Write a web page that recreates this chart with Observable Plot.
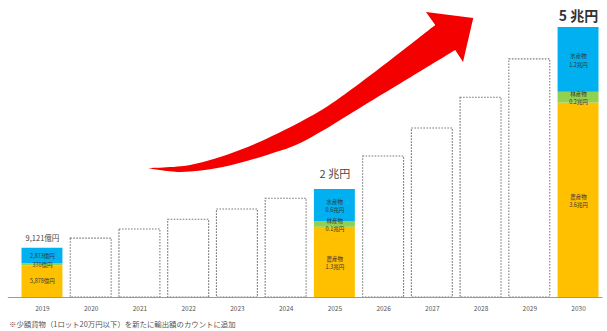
<!DOCTYPE html>
<html><head><meta charset="utf-8">
<script src="https://cdn.jsdelivr.net/npm/d3@7"></script>
<script src="https://cdn.jsdelivr.net/npm/@observablehq/plot@0.6"></script>
<style>
body{margin:0;background:#fff;font-family:"Noto Sans CJK JP",sans-serif;}
#note{font-size:7.4px;color:#555;height:15px;line-height:15px;padding-left:9px;white-space:nowrap;}
</style></head>
<body><div id="chart"></div><div id="note">※少額貨物（1ロット20万円以下）を新たに輸出額のカウントに追加</div>
<script>
// ---- data (兆円) ----
const years = [2019,2020,2021,2022,2023,2024,2025,2026,2027,2028,2029,2030];
const totals = [0.9121,1.09,1.26,1.44,1.63,1.83,2.0,2.61,3.13,3.70,4.41,5.0];
const stackYears = [2019,2025,2030];
const categories = ["農産物","林産物","水産物"];
const agri   = [0.5878,1.3,3.6];
const forest = [0.037,0.1,0.2];
const fish   = [0.2873,0.6,1.2];
const labels2019 = ["5,878億円","370億円","2,873億円"];
const labels2025 = ["農産物\n1.3兆円","林産物\n0.1兆円","水産物\n0.6兆円"];
const labels2030 = ["農産物\n3.6兆円","林産物\n0.2兆円","水産物\n1.2兆円"];
const totalLabels = ["9,121億円","2 兆円","5 兆円"];
const colors = ["#FFC000","#92D050","#00B0F0"];
// decorative arrow outline in (year, 兆円) space
const arrowUpper = [[2021.16,2.389],[2022.04,2.444],[2023.06,2.722],[2024.30,3.241],[2025.05,3.648],[2027.07,5.037]];
const arrowHead  = [[2026.88,5.278],[2027.85,5.167],[2027.64,4.352]];
const arrowLower = [[2027.48,4.574],[2025.79,3.648],[2024.30,2.852],[2023.74,2.667],[2022.71,2.407],[2021.83,2.315],[2021.16,2.389]];

const half = 0.42;
const segs = [];
const segLabels = [labels2019, labels2025, labels2030];
stackYears.forEach((yr,i)=>{
  const vals=[agri[i],forest[i],fish[i]];
  let base=0;
  vals.forEach((v,j)=>{segs.push({year:yr,cat:categories[j],y1:base,y2:base+v,label:segLabels[i][j],small:i===0});base+=v;});
});
const outline = years.map((y,i)=>({year:y,total:totals[i]})).filter(d=>!stackYears.includes(d.year));
const tops = stackYears.map((y,i)=>({year:y,total:totals[years.indexOf(y)],label:totalLabels[i]}));

function arrowMark(index, scales){
  const X=d=>scales.x(d[0]), Y=d=>scales.y(d[1]);
  const p=d3.path(); let first=true;
  const ctx={moveTo(x,y){if(first){p.moveTo(x,y);first=false;}else p.lineTo(x,y);},lineTo(x,y){p.lineTo(x,y);},
    bezierCurveTo(a,b,c,d,e,f){p.bezierCurveTo(a,b,c,d,e,f);},closePath(){p.closePath();}};
  d3.line(X,Y).curve(d3.curveCatmullRom).context(ctx)(arrowUpper);
  arrowHead.forEach(d=>ctx.lineTo(X(d),Y(d)));
  d3.line(X,Y).curve(d3.curveCatmullRom).context(ctx)(arrowLower);
  p.closePath();
  return d3.create("svg:path").attr("d",p.toString()).attr("fill","#F50000").node();
}

const chart = Plot.plot({
  width:607, height:316,
  marginLeft:17.6, marginRight:4.6, marginTop:0, marginBottom:19,
  style:{fontFamily:"Noto Sans CJK JP, sans-serif",background:"#fff"},
  x:{type:"linear",domain:[2018.5,2030.5]},
  y:{domain:[0,5.5],axis:null},
  marks:[
    Plot.rect(outline,{x1:d=>d.year-half,x2:d=>d.year+half,y1:0,y2:"total",fill:"#fff",stroke:"#7a7a7a",strokeWidth:1.1,strokeDasharray:"1.6,1.4"}),
    Plot.rect(segs,{x1:d=>d.year-half,x2:d=>d.year+half,y1:"y1",y2:"y2",fill:d=>colors[categories.indexOf(d.cat)]}),
    Plot.text(segs.filter(d=>!d.small),{x:"year",y:d=>(d.y1+d.y2)/2,text:"label",fontSize:5.5,fill:"#333",lineHeight:1.5}),
    Plot.text(segs.filter(d=>d.small),{x:"year",y:d=>(d.y1+d.y2)/2,text:"label",fontSize:5.5,fill:"#333"}),
    Plot.ruleY([0],{x1:2018.3,x2:2030.5,stroke:"#999",strokeWidth:1}),
    Plot.text(tops.slice(0,1),{x:"year",y:"total",text:"label",dy:-10,fontSize:7.5,fill:"#444"}),
    Plot.text(tops.slice(1,2),{x:"year",y:"total",text:"label",dy:-15,fontSize:11,fill:"#444"}),
    Plot.text(tops.slice(2,3),{x:"year",y:"total",text:"label",dy:-11,fontSize:14,fontWeight:"bold",fill:"#333"}),
    arrowMark,
    Plot.axisX({ticks:years,tickFormat:d=>String(d),tickSize:0,tickPadding:9,fontSize:6.5,fill:"#555",label:null})
  ]
});
document.getElementById("chart").append(chart);
</script></body></html>
